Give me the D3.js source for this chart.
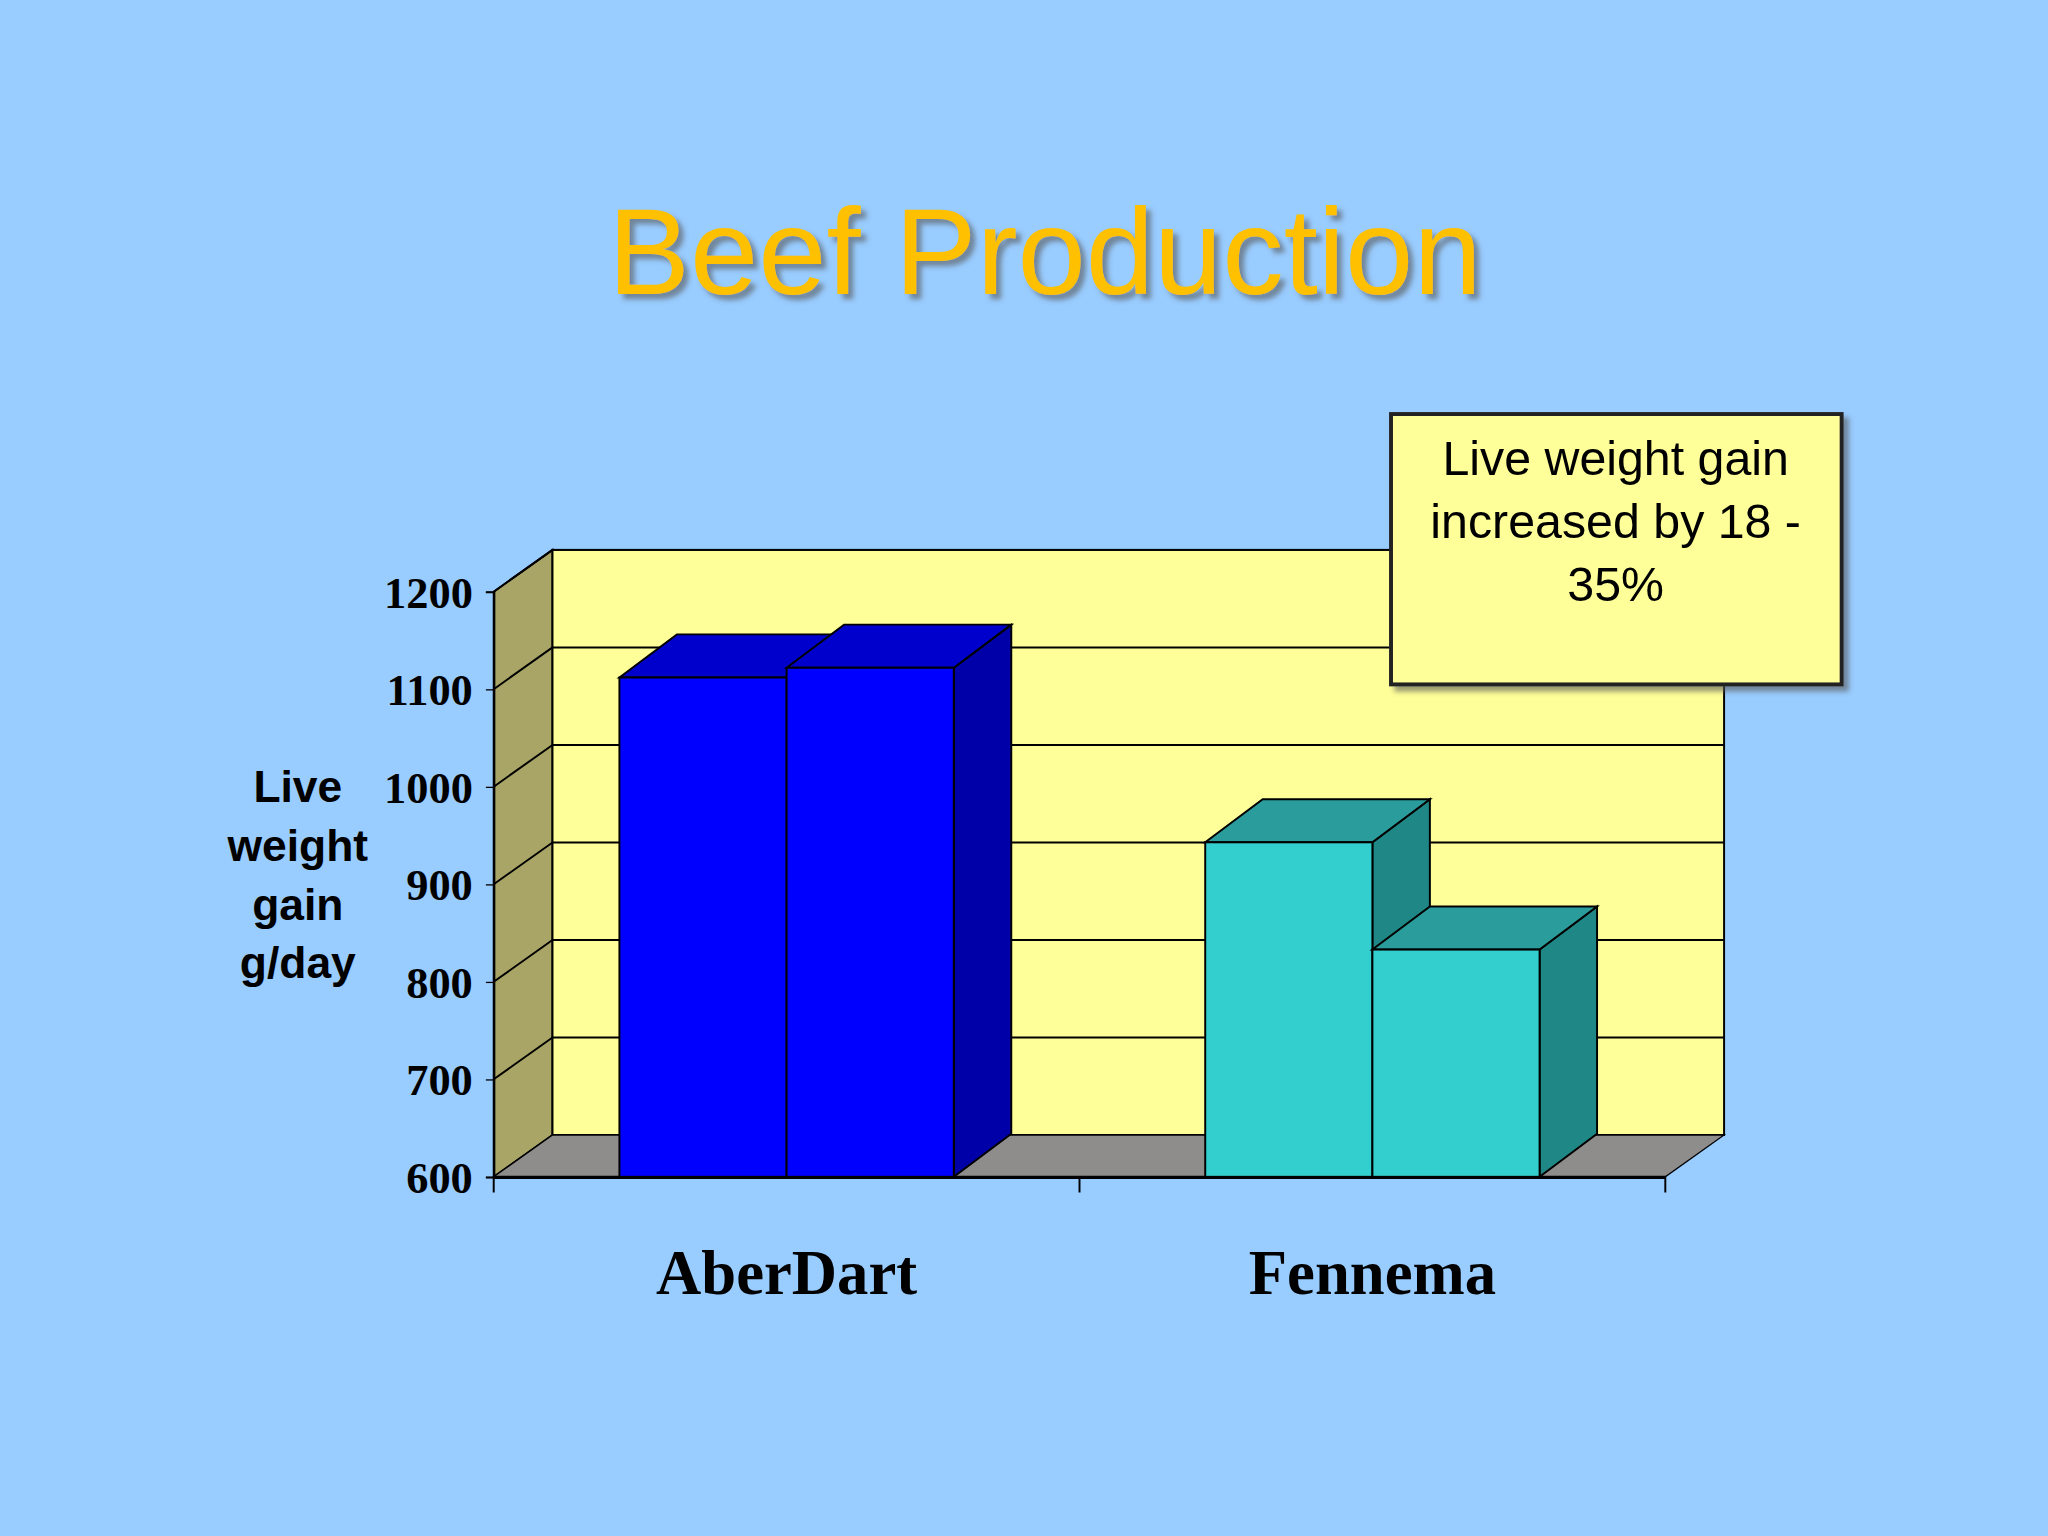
<!DOCTYPE html>
<html><head><meta charset="utf-8">
<script src="https://cdn.jsdelivr.net/npm/d3@7"></script>
<style>html,body{margin:0;padding:0;background:#99CCFF;}</style>
</head><body>
<svg id="c" width="2048" height="1536" viewBox="0 0 1568 1176"></svg>
<script>
const categories = ["AberDart", "Fennema"];
const series1 = [1112, 943];
const series2 = [1122, 833];
const yTicks = [600, 700, 800, 900, 1000, 1100, 1200];
const title = "Beef Production";
const yLabel = ["Live", "weight", "gain", "g/day"];
const note = ["Live weight gain", "increased by 18 -", "35%"];

const svg = d3.select("#c");
svg.append("rect").attr("width",1568).attr("height",1176).attr("fill","#99CCFF");
const defs = svg.append("defs");
const f = defs.append("filter").attr("id","sh").attr("x","-10%").attr("y","-10%").attr("width","130%").attr("height","130%");
f.append("feDropShadow").attr("dx",4).attr("dy",4).attr("stdDeviation",2).attr("flood-color","#555").attr("flood-opacity",0.6);

svg.append("text").attr("x",800).attr("y",225).attr("text-anchor","middle")
  .attr("font-family","Liberation Sans, Arial").attr("font-size",94).attr("fill","#FFC000")
  .attr("filter","url(#sh)").text(title);

const x0 = 378, x1 = 1275, dx = 45, dy = -32;
const y = d3.scaleLinear().domain([600,1200]).range([901,453]);
const x = d3.scaleBand().domain(categories).range([x0,x1]);

// side wall
svg.append("polygon").attr("points",[[x0,y(1200)],[x0+dx,y(1200)+dy],[x0+dx,y(600)+dy],[x0,y(600)]].join(" "))
  .attr("fill","#A9A566").attr("stroke","#000").attr("stroke-width",1.5);
// back wall
svg.append("rect").attr("x",x0+dx).attr("y",y(1200)+dy).attr("width",x1-x0).attr("height",y(600)-y(1200))
  .attr("fill","#FFFF99").attr("stroke","#000").attr("stroke-width",1.5);
// floor
svg.append("polygon").attr("points",[[x0,y(600)],[x0+dx,y(600)+dy],[x1+dx,y(600)+dy],[x1,y(600)]].join(" "))
  .attr("fill","#8F8C8C").attr("stroke","#000").attr("stroke-width",1);
// gridlines
yTicks.forEach(t=>{
  if(t===600) return;
  svg.append("line").attr("x1",x0).attr("y1",y(t)).attr("x2",x0+dx).attr("y2",y(t)+dy).attr("stroke","#000").attr("stroke-width",1.5);
  svg.append("line").attr("x1",x0+dx).attr("y1",y(t)+dy).attr("x2",x1+dx).attr("y2",y(t)+dy).attr("stroke","#000").attr("stroke-width",1.5);
});

// y axis
const ya = svg.append("g").attr("transform",`translate(${x0},0)`)
  .call(d3.axisLeft(y).tickValues(yTicks).tickSize(6).tickPadding(10).tickFormat(d3.format("d")));
ya.select(".domain").attr("stroke","#000").attr("stroke-width",1.5);
ya.selectAll("text").attr("font-family","Liberation Serif, Times New Roman").attr("font-weight","bold").attr("font-size",34).attr("fill","#000").attr("dy","0.35em");
// x axis
const xa = svg.append("g").attr("transform",`translate(0,${y(600)})`)
  .call(d3.axisBottom(x).tickSize(0).tickPadding(56));
xa.select(".domain").attr("stroke","#000").attr("stroke-width",2.5);
xa.selectAll("text").attr("font-family","Liberation Serif, Times New Roman").attr("font-weight","bold").attr("font-size",48).attr("fill","#000");
[x0, x0+x.bandwidth(), x1].forEach(t=>svg.append("line").attr("x1",t).attr("x2",t).attr("y1",y(600)).attr("y2",y(600)+12).attr("stroke","#000").attr("stroke-width",1.5));

// bars
const bw = 128, bdx = 44, bdy = -33;
const colors = [{front:"#0000FF",top:"#0000CC",side:"#0000A8"},{front:"#33CFCF",top:"#2A9C9C",side:"#208787"}];
function bar(xl, v, c){
  const yt = y(v), yb = y(600);
  const g = svg.append("g").attr("stroke","#000").attr("stroke-width",1.5);
  g.append("polygon").attr("points",[[xl+bw,yt],[xl+bw+bdx,yt+bdy],[xl+bw+bdx,yb+bdy],[xl+bw,yb]].join(" ")).attr("fill",c.side);
  g.append("polygon").attr("points",[[xl,yt],[xl+bdx,yt+bdy],[xl+bw+bdx,yt+bdy],[xl+bw,yt]].join(" ")).attr("fill",c.top);
  g.append("rect").attr("x",xl).attr("y",yt).attr("width",bw).attr("height",yb-yt).attr("fill",c.front);
}
categories.forEach((cat,i)=>{
  const cx = x(cat)+x.bandwidth()/2;
  bar(cx-bw, series1[i], colors[i]);
  bar(cx, series2[i], colors[i]);
});

// y label
yLabel.forEach((t,i)=>svg.append("text").attr("x",228).attr("y",614+i*45).attr("text-anchor","middle")
  .attr("font-family","Liberation Sans, Arial").attr("font-weight","bold").attr("font-size",34).attr("fill","#000").text(t));

// note box
svg.append("rect").attr("x",1065).attr("y",317).attr("width",345).attr("height",207)
  .attr("fill","#FFFF99").attr("stroke","#222").attr("stroke-width",3).attr("filter","url(#sh)");
note.forEach((t,i)=>svg.append("text").attr("x",1237).attr("y",364+i*48).attr("text-anchor","middle")
  .attr("font-family","Liberation Sans, Arial").attr("font-size",37).attr("fill","#000").text(t));
</script>
</body></html>
